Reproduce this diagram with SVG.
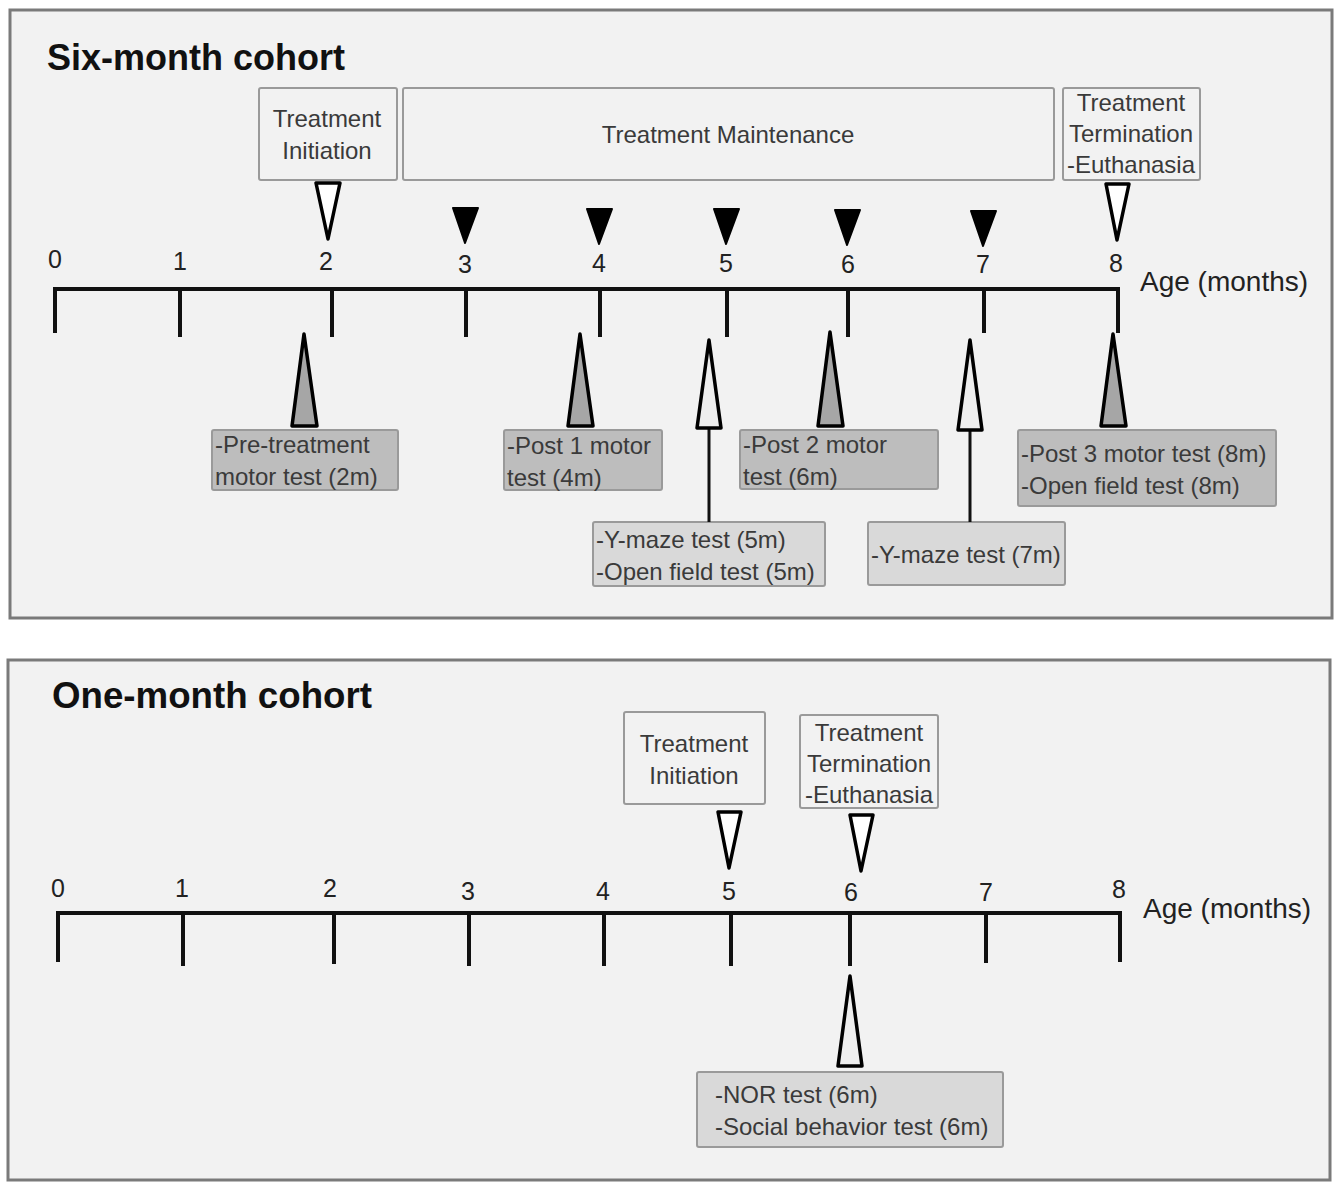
<svg xmlns="http://www.w3.org/2000/svg" width="1337" height="1182" viewBox="0 0 1337 1182">
<style>
.panel{fill:#f2f2f2;stroke:#7a7a7a;stroke-width:3}
.title{font-family:"Liberation Sans",Arial,sans-serif;font-weight:bold;font-size:36px;fill:#111}
.box{fill:#f2f2f2;stroke:#9a9a9a;stroke-width:2}
.dk{fill:#bdbdbd;stroke:#9a9a9a;stroke-width:2}
.lt{fill:#d9d9d9;stroke:#9a9a9a;stroke-width:2}
.t{font-family:"Liberation Sans",Arial,sans-serif;font-size:24px;fill:#3a3a3a}
.num{font-family:"Liberation Sans",Arial,sans-serif;font-size:25px;fill:#222;text-anchor:middle}
.age{font-family:"Liberation Sans",Arial,sans-serif;font-size:28px;fill:#222}
.axis{stroke:#111;stroke-width:4;fill:none}
.tick{stroke:#111;stroke-width:4}
.open{fill:#ffffff;stroke:#000;stroke-width:3.5;stroke-linejoin:round}
.black{fill:#000;stroke:#000;stroke-width:2;stroke-linejoin:round}
.grey{fill:#a6a6a6;stroke:#000;stroke-width:3.5;stroke-linejoin:round}
.pale{fill:#eeeeee;stroke:#000;stroke-width:3.5;stroke-linejoin:round}
.stem{stroke:#111;stroke-width:3}
.c{text-anchor:middle}
</style>
<rect class="panel" x="10" y="10" width="1322" height="608"/>
<rect class="panel" x="8" y="660" width="1322" height="520"/>
<text class="title" x="47" y="70" textLength="298" lengthAdjust="spacingAndGlyphs">Six-month cohort</text>
<text class="title" x="52" y="708" textLength="320" lengthAdjust="spacingAndGlyphs">One-month cohort</text>

<g id="p1-initiation"><rect class="box" x="259" y="88" width="138" height="92" rx="2"/><text class="t c" x="327" y="127">Treatment</text><text class="t c" x="327" y="159">Initiation</text></g>
<g id="p1-maintenance"><rect class="box" x="403" y="88" width="651" height="92" rx="2"/><text class="t c" x="728" y="143">Treatment Maintenance</text></g>
<g id="p1-termination"><rect class="box" x="1063" y="88" width="137" height="92" rx="2"/><text class="t c" x="1131" y="111">Treatment</text><text class="t c" x="1131" y="142">Termination</text><text class="t c" x="1131" y="173">-Euthanasia</text></g>

<g id="p1-pre"><rect class="dk" x="212" y="430" width="186" height="60" rx="2"/><text class="t" x="215" y="453">-Pre-treatment</text><text class="t" x="215" y="485">motor test (2m)</text></g>
<g id="p1-post1"><rect class="dk" x="504" y="430" width="158" height="60" rx="2"/><text class="t" x="507" y="454">-Post 1 motor</text><text class="t" x="507" y="486">test (4m)</text></g>
<g id="p1-post2"><rect class="dk" x="740" y="430" width="198" height="59" rx="2"/><text class="t" x="743" y="453">-Post 2 motor</text><text class="t" x="743" y="485">test (6m)</text></g>
<g id="p1-post3"><rect class="dk" x="1018" y="430" width="258" height="76" rx="2"/><text class="t" x="1021" y="462">-Post 3  motor test (8m)</text><text class="t" x="1021" y="494">-Open field test (8m)</text></g>
<g id="p1-ymaze5"><rect class="lt" x="593" y="522" width="232" height="64" rx="2"/><text class="t" x="596" y="548">-Y-maze test (5m)</text><text class="t" x="596" y="580">-Open field test (5m)</text></g>
<g id="p1-ymaze7"><rect class="lt" x="868" y="522" width="197" height="63" rx="2"/><text class="t" x="871" y="563">-Y-maze test (7m)</text></g>

<g id="p2-initiation"><rect class="box" x="624" y="712" width="141" height="92" rx="2"/><text class="t c" x="694" y="752">Treatment</text><text class="t c" x="694" y="784">Initiation</text></g>
<g id="p2-termination"><rect class="box" x="800" y="715" width="138" height="93" rx="2"/><text class="t c" x="869" y="741">Treatment</text><text class="t c" x="869" y="772">Termination</text><text class="t c" x="869" y="803">-Euthanasia</text></g>
<g id="p2-nor"><rect class="lt" x="697" y="1072" width="306" height="75" rx="2"/><text class="t" x="715" y="1103">-NOR test (6m)</text><text class="t" x="715" y="1135">-Social behavior test (6m)</text></g>

<g id="axis1">
<path class="axis" d="M55 333 V289 H1118 V333"/>
<line class="tick" x1="180" y1="289" x2="180" y2="337"/>
<line class="tick" x1="332" y1="289" x2="332" y2="337"/>
<line class="tick" x1="466" y1="289" x2="466" y2="337"/>
<line class="tick" x1="600" y1="289" x2="600" y2="337"/>
<line class="tick" x1="727" y1="289" x2="727" y2="337"/>
<line class="tick" x1="848" y1="289" x2="848" y2="337"/>
<line class="tick" x1="984" y1="289" x2="984" y2="333"/>
<text class="num" x="55" y="268">0</text><text class="num" x="180" y="270">1</text><text class="num" x="326" y="270">2</text><text class="num" x="465" y="273">3</text><text class="num" x="599" y="272">4</text><text class="num" x="726" y="272">5</text><text class="num" x="848" y="273">6</text><text class="num" x="983" y="273">7</text><text class="num" x="1116" y="272">8</text>
<text class="age" x="1140" y="291">Age (months)</text>
</g>

<g id="axis2">
<path class="axis" d="M58 962 V913 H1120 V962"/>
<line class="tick" x1="183" y1="913" x2="183" y2="966"/>
<line class="tick" x1="334" y1="913" x2="334" y2="964"/>
<line class="tick" x1="469" y1="913" x2="469" y2="966"/>
<line class="tick" x1="604" y1="913" x2="604" y2="966"/>
<line class="tick" x1="731" y1="913" x2="731" y2="966"/>
<line class="tick" x1="850" y1="913" x2="850" y2="966"/>
<line class="tick" x1="986" y1="913" x2="986" y2="963"/>
<text class="num" x="58" y="897">0</text><text class="num" x="182" y="897">1</text><text class="num" x="330" y="897">2</text><text class="num" x="468" y="900">3</text><text class="num" x="603" y="900">4</text><text class="num" x="729" y="900">5</text><text class="num" x="851" y="901">6</text><text class="num" x="986" y="901">7</text><text class="num" x="1119" y="898">8</text>
<text class="age" x="1143" y="918">Age (months)</text>
</g>

<g id="connectors">
<polygon class="open" points="316,183 340,183 328,239"/>
<polygon class="open" points="1106,184 1129,184 1117,240"/>
<polygon class="black" points="453,208 478,208 465,243"/>
<polygon class="black" points="587,209 612,209 599,244"/>
<polygon class="black" points="714,209 739,209 726,244"/>
<polygon class="black" points="835,210 860,210 847,245"/>
<polygon class="black" points="971,211 996,211 983,246"/>
<polygon class="grey" points="292,426 317,426 304,334"/>
<polygon class="grey" points="568,426 593,426 580,334"/>
<polygon class="grey" points="818,426 843,426 830,332"/>
<polygon class="grey" points="1101,426 1126,426 1113,334"/>
<line class="stem" x1="709" y1="428" x2="709" y2="522"/>
<polygon class="pale" points="697,428 721,428 709,340"/>
<line class="stem" x1="970" y1="430" x2="970" y2="522"/>
<polygon class="pale" points="958,430 982,430 970,340"/>
<polygon class="open" points="718,812 741,812 729,868"/>
<polygon class="open" points="850,815 873,815 861,871"/>
<polygon class="pale" points="838,1066 862,1066 850,976"/>
</g>
</svg>
